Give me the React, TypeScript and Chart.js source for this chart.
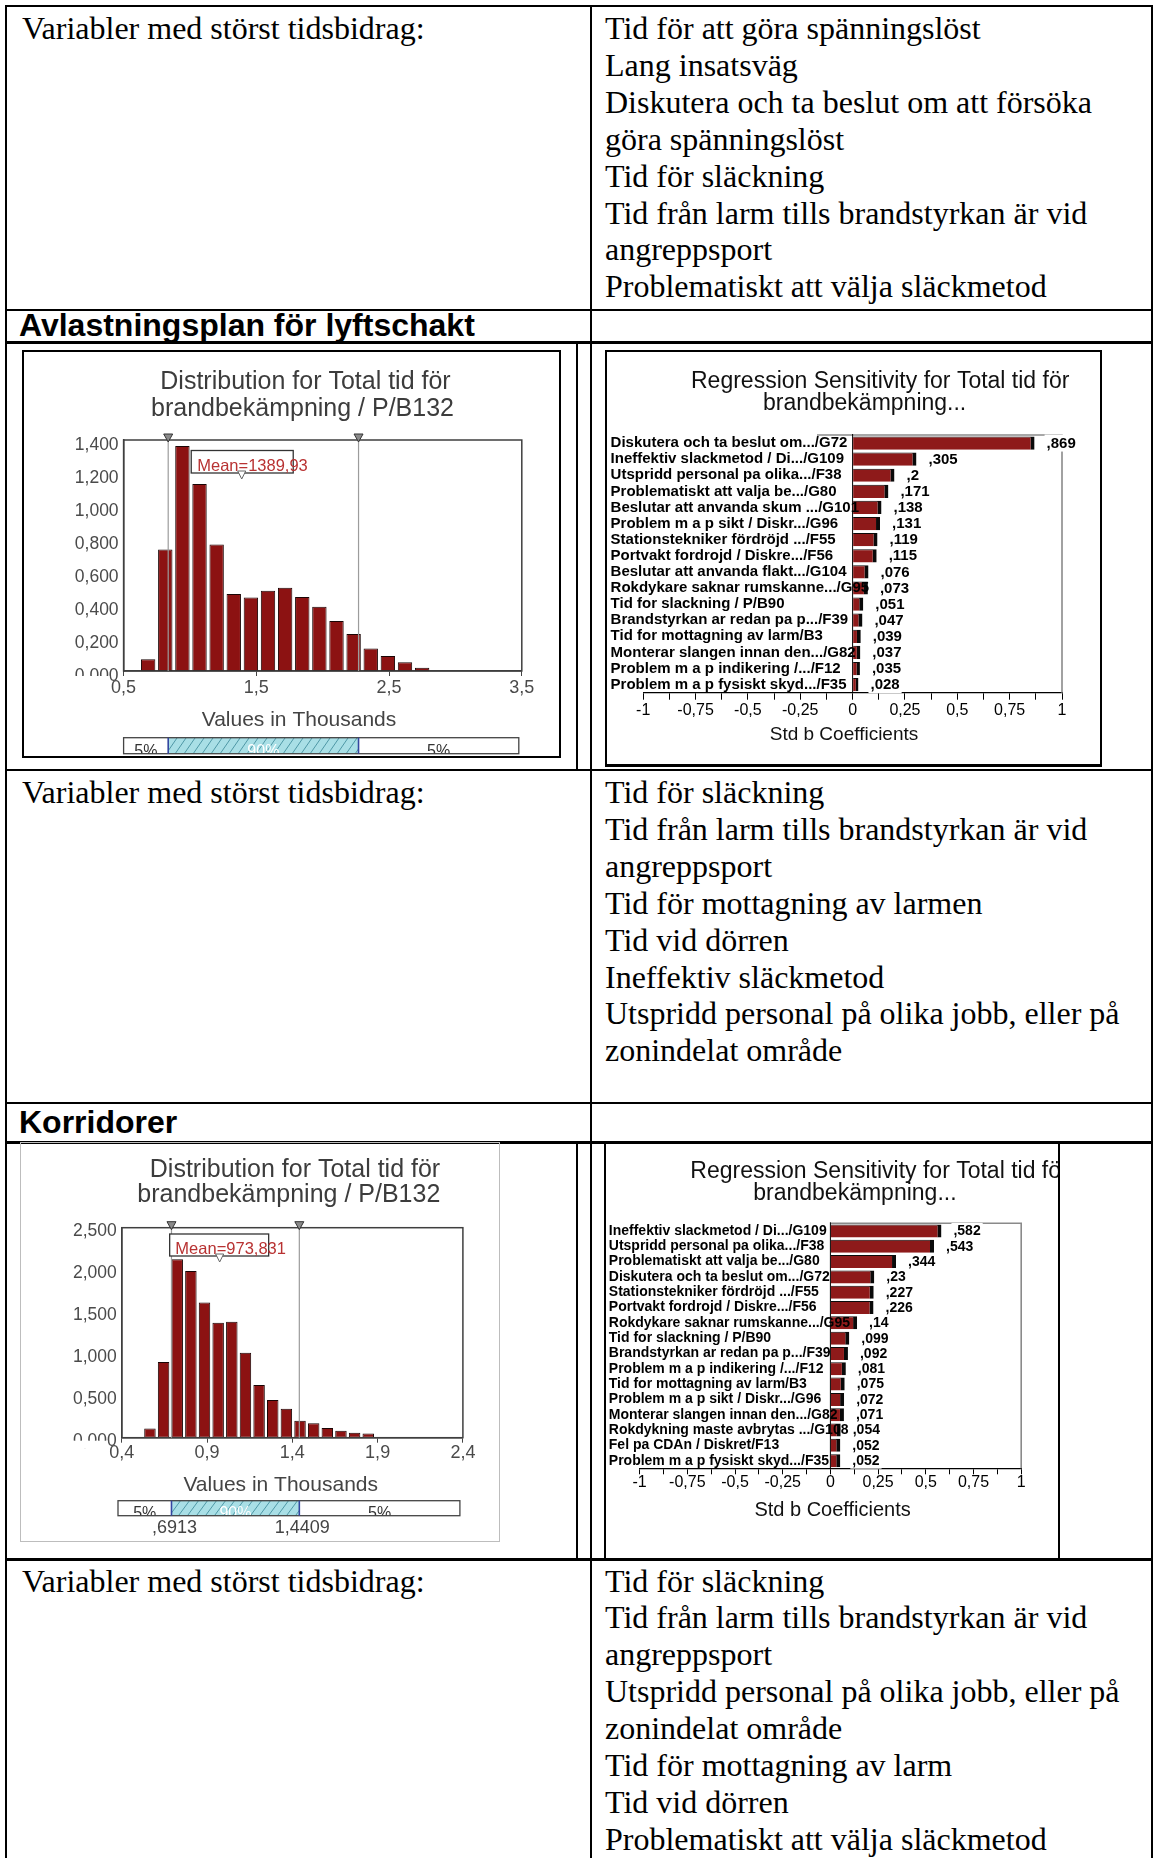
import React, { useEffect, useRef } from "react";
import { Chart, registerables } from "chart.js";
Chart.register(...registerables);

const SERIF = '"Liberation Serif", "Times New Roman", serif';
const SANS = '"Liberation Sans", Arial, sans-serif';

// ---------------- Text content ----------------
const leftLabel = "Variabler med störst tidsbidrag:";
const row1Right = [
  "Tid för att göra spänningslöst",
  "Lang insatsväg",
  "Diskutera och ta beslut om att försöka",
  "göra spänningslöst",
  "Tid för släckning",
  "Tid från larm tills brandstyrkan är vid",
  "angreppsport",
  "Problematiskt att välja släckmetod",
];
const header1 = "Avlastningsplan för lyftschakt";
const row2Right = [
  "Tid för släckning",
  "Tid från larm tills brandstyrkan är vid",
  "angreppsport",
  "Tid för mottagning av larmen",
  "Tid vid dörren",
  "Ineffektiv släckmetod",
  "Utspridd personal på olika jobb, eller på",
  "zonindelat område",
];
const header2 = "Korridorer";
const row3Right = [
  "Tid för släckning",
  "Tid från larm tills brandstyrkan är vid",
  "angreppsport",
  "Utspridd personal på olika jobb, eller på",
  "zonindelat område",
  "Tid för mottagning av larm",
  "Tid vid dörren",
  "Problematiskt att välja släckmetod",
];

// ---------------- Histogram 1 (Avlastningsplan) ----------------
const histTitle = ["Distribution for Total tid för", "brandbekämpning / P/B132"];
const histXTitle = "Values in Thousands";
const hist1Bins = [0.685, 0.814, 0.943, 1.072, 1.201, 1.33, 1.459, 1.588, 1.717, 1.846, 1.975, 2.104, 2.233, 2.362, 2.491, 2.62, 2.749];
const hist1Values = [0.071, 0.737, 1.364, 1.133, 0.766, 0.467, 0.446, 0.487, 0.505, 0.448, 0.39, 0.303, 0.224, 0.137, 0.091, 0.053, 0.02];
const hist1Mean = 1.38993;
const hist1MeanLabel = "Mean=1389,93";
const hist1P5 = 0.836;
const hist1P95 = 2.27;
const hist1XMin = 0.5;
const hist1XMax = 3.5;
const hist1XStep = 1;
const hist1YMax = 1.4;
const hist1YStep = 0.2;

// ---------------- Histogram 2 (Korridorer) ----------------
const hist2Bins = [0.565, 0.645, 0.725, 0.805, 0.885, 0.965, 1.045, 1.125, 1.205, 1.285, 1.365, 1.445, 1.525, 1.605, 1.685, 1.765, 1.845];
const hist2Values = [0.111, 0.9, 2.123, 1.984, 1.611, 1.369, 1.381, 1.012, 0.627, 0.448, 0.345, 0.202, 0.171, 0.115, 0.083, 0.06, 0.05];
const hist2Mean = 0.973831;
const hist2MeanLabel = "Mean=973,831";
const hist2P5 = 0.6913;
const hist2P95 = 1.4409;
const hist2P5Label = ",6913";
const hist2P95Label = "1,4409";
const hist2XMin = 0.4;
const hist2XMax = 2.4;
const hist2XStep = 0.5;
const hist2YMax = 2.5;
const hist2YStep = 0.5;

const pctLabels = ["5%", "90%", "5%"];

// ---------------- Tornado charts ----------------
const tornadoTitle = ["Regression Sensitivity for Total tid för", "brandbekämpning..."];
const tornadoXTitle = "Std b Coefficients";
const tornado1Labels = [
  "Diskutera och ta beslut om.../G72",
  "Ineffektiv slackmetod / Di.../G109",
  "Utspridd personal pa olika.../F38",
  "Problematiskt att valja be.../G80",
  "Beslutar att anvanda skum .../G101",
  "Problem m a p sikt / Diskr.../G96",
  "Stationstekniker fördröjd .../F55",
  "Portvakt fordrojd / Diskre.../F56",
  "Beslutar att anvanda flakt.../G104",
  "Rokdykare saknar rumskanne.../G95",
  "Tid for slackning / P/B90",
  "Brandstyrkan ar redan pa p.../F39",
  "Tid for mottagning av larm/B3",
  "Monterar slangen innan den.../G82",
  "Problem m a p indikering /.../F12",
  "Problem m a p fysiskt skyd.../F35",
];
const tornado1Values = [0.869, 0.305, 0.2, 0.171, 0.138, 0.131, 0.119, 0.115, 0.076, 0.073, 0.051, 0.047, 0.039, 0.037, 0.035, 0.028];
const tornado2Labels = [
  "Ineffektiv slackmetod / Di.../G109",
  "Utspridd personal pa olika.../F38",
  "Problematiskt att valja be.../G80",
  "Diskutera och ta beslut om.../G72",
  "Stationstekniker fördröjd .../F55",
  "Portvakt fordrojd / Diskre.../F56",
  "Rokdykare saknar rumskanne.../G95",
  "Tid for slackning / P/B90",
  "Brandstyrkan ar redan pa p.../F39",
  "Problem m a p indikering /.../F12",
  "Tid for mottagning av larm/B3",
  "Problem m a p sikt / Diskr.../G96",
  "Monterar slangen innan den.../G82",
  "Rokdykning maste avbrytas .../G108",
  "Fel pa CDAn / Diskret/F13",
  "Problem m a p fysiskt skyd.../F35",
];
const tornado2Values = [0.582, 0.543, 0.344, 0.23, 0.227, 0.226, 0.14, 0.099, 0.092, 0.081, 0.075, 0.072, 0.071, 0.054, 0.052, 0.052];
const tornadoXMin = -1;
const tornadoXMax = 1;
const tornadoXStep = 0.125;

// ---------------- Helpers / plugins ----------------
const commaNum = (v: number) => String(Math.round(v * 1000) / 1000).replace(".", ",");
const coefLabel = (v: number) => String(v).replace(/^0\./, ",");

const freeText = {
  id: "freeText",
  afterDraw(chart: any, _a: any, o: any) {
    const items = (o && o.items) || [];
    const ctx = chart.ctx;
    ctx.save();
    for (const it of items) {
      ctx.font = it.font;
      ctx.fillStyle = it.color;
      ctx.textAlign = it.align || "center";
      ctx.textBaseline = "middle";
      ctx.fillText(it.text, it.x, it.y);
    }
    ctx.restore();
  },
};

const histDecor = {
  id: "histDecor",
  afterDatasetsDraw(chart: any, _a: any, o: any) {
    const { ctx, chartArea: ca } = chart;
    const x = chart.scales.x;
    const y = chart.scales.y;
    const p5 = x.getPixelForValue(o.p5);
    const p95 = x.getPixelForValue(o.p95);
    const pm = x.getPixelForValue(o.mean);
    ctx.save();
    // lower half of the "0,000" label is hidden in the original
    ctx.fillStyle = "#fff";
    ctx.fillRect(y.left, ca.bottom + o.zeroCut, y.right - y.left - 14, 8);
    // plot frame
    ctx.strokeStyle = "#3f3f3f";
    ctx.lineWidth = 1.5;
    ctx.strokeRect(ca.left, ca.top, ca.right - ca.left, ca.bottom - ca.top);
    // percentile lines + markers
    ctx.strokeStyle = "#9c9c9c";
    ctx.lineWidth = 1.2;
    for (const p of [p5, p95]) {
      ctx.beginPath();
      ctx.moveTo(p, ca.top);
      ctx.lineTo(p, ca.bottom);
      ctx.stroke();
    }
    for (const p of [p5, p95]) {
      ctx.beginPath();
      ctx.moveTo(p - 4.5, ca.top - 6);
      ctx.lineTo(p + 4.5, ca.top - 6);
      ctx.lineTo(p, ca.top + 2);
      ctx.closePath();
      ctx.fillStyle = "#8a8a8a";
      ctx.fill();
      ctx.strokeStyle = "#333";
      ctx.lineWidth = 1;
      ctx.stroke();
    }
    // mean box
    const bx = pm + o.boxDx;
    const by = ca.top + o.boxDy;
    ctx.fillStyle = "#fff";
    ctx.fillRect(bx, by, o.boxW, o.boxH);
    ctx.strokeStyle = "#333";
    ctx.lineWidth = 1.3;
    ctx.strokeRect(bx, by, o.boxW, o.boxH);
    ctx.font = `16.5px ${SANS}`;
    ctx.fillStyle = "#b83232";
    ctx.textAlign = "left";
    ctx.textBaseline = "middle";
    ctx.fillText(o.meanLabel, bx + o.textDx, by + o.textDy);
    ctx.beginPath();
    ctx.moveTo(pm - 4, by + o.boxH - 2);
    ctx.lineTo(pm + 4, by + o.boxH - 2);
    ctx.lineTo(pm, by + o.boxH + 6);
    ctx.closePath();
    ctx.fillStyle = "#fff";
    ctx.fill();
    ctx.strokeStyle = "#666";
    ctx.lineWidth = 1;
    ctx.stroke();
    // percentage bar
    const L = ca.left + o.barL;
    const R = ca.right + o.barR;
    const T = o.barTop;
    const H = o.barH;
    ctx.fillStyle = "#fff";
    ctx.fillRect(L, T, R - L, H);
    ctx.fillStyle = "#a9dfe6";
    ctx.fillRect(p5, T, p95 - p5, H);
    ctx.save();
    ctx.beginPath();
    ctx.rect(p5, T, p95 - p5, H);
    ctx.clip();
    ctx.strokeStyle = "#4f98a6";
    ctx.lineWidth = 1;
    for (let s = p5 - 20; s < p95 + 20; s += 9) {
      ctx.beginPath();
      ctx.moveTo(s, T + H);
      ctx.lineTo(s + 11, T);
      ctx.stroke();
    }
    ctx.restore();
    ctx.save();
    ctx.beginPath();
    ctx.rect(L, T, R - L, H);
    ctx.clip();
    ctx.font = `16px ${SANS}`;
    ctx.textAlign = "center";
    ctx.textBaseline = "alphabetic";
    const segs = [
      [L, p5, "#333"],
      [p5, p95, "#fff"],
      [p95, R, "#333"],
    ];
    segs.forEach((s: any, i: number) => {
      ctx.fillStyle = s[2];
      ctx.fillText(o.pctLabels[i], (s[0] + s[1]) / 2, T + H + 2);
    });
    ctx.restore();
    ctx.strokeStyle = "#444";
    ctx.lineWidth = 1.3;
    ctx.strokeRect(L, T, R - L, H);
    ctx.strokeStyle = "#3446a0";
    ctx.lineWidth = 1.6;
    for (const p of [p5, p95]) {
      ctx.beginPath();
      ctx.moveTo(p, T);
      ctx.lineTo(p, T + H);
      ctx.stroke();
    }
    if (o.p5Label) {
      ctx.font = `18px ${SANS}`;
      ctx.fillStyle = "#444";
      ctx.textAlign = "center";
      ctx.textBaseline = "middle";
      ctx.fillText(o.p5Label, p5 + 3, o.pLabelY);
      ctx.fillText(o.p95Label, p95 + 3, o.pLabelY);
    }
    ctx.restore();
  },
};

const tornadoDecor = {
  id: "tornadoDecor",
  beforeDatasetsDraw(chart: any, _a: any, o: any) {
    const { ctx, chartArea: ca } = chart;
    const x = chart.scales.x;
    ctx.save();
    ctx.strokeStyle = "#8a8a8a";
    ctx.lineWidth = 1.6;
    ctx.beginPath();
    ctx.moveTo(x.getPixelForValue(o.frameFrom), ca.top);
    ctx.lineTo(ca.right, ca.top);
    ctx.lineTo(ca.right, ca.bottom);
    ctx.stroke();
    const z = x.getPixelForValue(0);
    ctx.strokeStyle = "#000";
    ctx.lineWidth = 1;
    ctx.beginPath();
    ctx.moveTo(z, ca.top - 1);
    ctx.lineTo(z, ca.bottom);
    ctx.stroke();
    ctx.restore();
  },
  afterDatasetsDraw(chart: any, _a: any, o: any) {
    const { ctx } = chart;
    const meta = chart.getDatasetMeta(0);
    const vals = chart.data.datasets[0].data;
    ctx.save();
    ctx.font = `bold ${o.fontSize}px ${SANS}`;
    ctx.textAlign = "left";
    ctx.textBaseline = "middle";
    meta.data.forEach((el: any, i: number) => {
      const t = coefLabel(vals[i]);
      const w = ctx.measureText(t).width;
      const tx = el.x + o.gap;
      ctx.fillStyle = "#fff";
      ctx.fillRect(tx - 2, el.y - o.fontSize / 2 - 1, w + 4, o.fontSize + 2);
      ctx.fillStyle = "#000";
      ctx.fillText(t, tx, el.y + 0.5);
    });
    ctx.restore();
  },
};

// ---------------- Chart components ----------------
function HistogramChart(p: any) {
  const ref = useRef<HTMLCanvasElement | null>(null);
  useEffect(() => {
    const c = ref.current!;
    const chart = new Chart(c, {
      type: "bar",
      data: {
        datasets: [
          {
            data: p.bins.map((b: number, i: number) => ({ x: b, y: p.values[i] })),
            backgroundColor: "#8c1212",
            borderColor: "#1a0505",
            borderWidth: 1,
            borderSkipped: false,
            barPercentage: 0.84,
            categoryPercentage: 1,
          },
        ],
      },
      options: {
        responsive: false,
        animation: false,
        devicePixelRatio: 1,
        layout: { padding: { left: 0, top: p.padTop, right: p.padRight, bottom: 0 } },
        plugins: {
          legend: { display: false },
          tooltip: { enabled: false },
          title: { display: false },
          freeText: { items: p.texts },
          histDecor: p.decor,
        },
        scales: {
          x: {
            type: "linear",
            min: p.xMin,
            max: p.xMax,
            offset: false,
            grid: { offset: false, drawOnChartArea: false, drawTicks: true, tickLength: 5, color: "#444" },
            border: { color: "#3f3f3f", width: 1.5 },
            ticks: {
              stepSize: p.xStep,
              autoSkip: false,
              maxRotation: 0,
              padding: p.xTickPad,
              color: "#4a4a4a",
              font: { family: SANS, size: 18 },
              callback: (v: any) => Number(v).toFixed(1).replace(".", ","),
            },
            afterFit: (s: any) => {
              s.height = p.xAxisH;
            },
          },
          y: {
            min: 0,
            max: p.yMax,
            grid: { display: false },
            border: { color: "#3f3f3f", width: 1.5 },
            ticks: {
              stepSize: p.yStep,
              padding: -3,
              labelOffset: p.yLabelOffset,
              color: "#4a4a4a",
              font: { family: SANS, size: 17.5 },
              callback: (v: any) => Number(v).toFixed(3).replace(".", ","),
            },
            afterFit: (s: any) => {
              s.width = p.yAxisW;
            },
          },
        },
      } as any,
      plugins: [freeText, histDecor],
    });
    return () => chart.destroy();
  }, []);
  return (
    <canvas
      ref={ref}
      width={p.w}
      height={p.h}
      style={{ position: "absolute", left: p.left, top: p.top, width: p.w, height: p.h }}
    />
  );
}

function TornadoChart(p: any) {
  const ref = useRef<HTMLCanvasElement | null>(null);
  useEffect(() => {
    const c = ref.current!;
    const chart = new Chart(c, {
      type: "bar",
      data: {
        labels: p.labels,
        datasets: [
          {
            data: p.values,
            backgroundColor: "#8e1a1a",
            borderColor: "#0a0a0a",
            borderWidth: { top: 1, right: 4, bottom: 0, left: 0 },
            borderSkipped: false,
            barPercentage: p.barPct,
            categoryPercentage: 1,
          },
        ],
      },
      options: {
        indexAxis: "y",
        responsive: false,
        animation: false,
        devicePixelRatio: 1,
        layout: { padding: { left: p.padLeft, top: p.padTop, right: p.padRight, bottom: 0 } },
        plugins: {
          legend: { display: false },
          tooltip: { enabled: false },
          title: { display: false },
          freeText: { items: p.texts },
          tornadoDecor: { frameFrom: p.frameFrom, gap: 12, fontSize: p.valueFont },
        },
        scales: {
          x: {
            type: "linear",
            min: tornadoXMin,
            max: tornadoXMax,
            grid: { drawOnChartArea: false, drawTicks: true, tickLength: p.tickLen, color: "#000" },
            border: { color: "#000", width: 1.3 },
            ticks: {
              stepSize: tornadoXStep,
              autoSkip: false,
              maxRotation: 0,
              padding: p.xTickPad,
              color: "#000",
              font: { family: SANS, size: 16 },
              callback: (v: any) => {
                const n = Math.round(Number(v) * 1000) / 1000;
                if (Math.abs(n * 4 - Math.round(n * 4)) > 1e-6) return "";
                return commaNum(n);
              },
            },
            afterFit: (s: any) => {
              s.height = p.xAxisH;
            },
          },
          y: {
            grid: { display: false },
            border: { display: false },
            ticks: {
              mirror: true,
              padding: -p.yAxisW,
              autoSkip: false,
              z: 1,
              color: "#000",
              font: { family: SANS, size: p.labelFont, weight: "bold" },
            },
            afterFit: (s: any) => {
              s.width = p.yAxisW;
            },
          },
        },
      } as any,
      plugins: [freeText, tornadoDecor],
    });
    return () => chart.destroy();
  }, []);
  return (
    <canvas
      ref={ref}
      width={p.w}
      height={p.h}
      style={{ position: "absolute", left: p.left, top: p.top, width: p.w, height: p.h }}
    />
  );
}

// ---------------- Page pieces ----------------
function Lines({ lines, left, top }: any) {
  return (
    <div
      style={{
        position: "absolute",
        left,
        top,
        fontFamily: SERIF,
        fontSize: 32,
        lineHeight: "36.9px",
        whiteSpace: "nowrap",
        color: "#000",
      }}
    >
      {lines.map((l: string, i: number) => (
        <div key={i}>{l}</div>
      ))}
    </div>
  );
}

function Header({ text, top }: any) {
  return (
    <div
      style={{
        position: "absolute",
        left: 19,
        top,
        fontFamily: SANS,
        fontWeight: "bold",
        fontSize: 32,
        lineHeight: "32px",
        whiteSpace: "nowrap",
        color: "#000",
      }}
    >
      {text}
    </div>
  );
}

const HL = ({ y, t = 2 }: any) => (
  <div style={{ position: "absolute", left: 5, top: y, width: 1148, height: t, background: "#000" }} />
);
const VL = ({ x, y1, y2, w = 2, c = "#000" }: any) => (
  <div style={{ position: "absolute", left: x, top: y1, width: w, height: y2 - y1, background: c }} />
);

const tTitle = (x1: number, y1: number, x2: number, y2: number, align1: any) => [
  { text: tornadoTitle[0], x: x1, y: y1, font: `23px ${SANS}`, color: "#111", align: align1 },
  { text: tornadoTitle[1], x: x2, y: y2, font: `23px ${SANS}`, color: "#111", align: "center" },
];
const hTitle = (x1: number, y1: number, x2: number, y2: number) => [
  { text: histTitle[0], x: x1, y: y1, font: `25px ${SANS}`, color: "#3c3c3c", align: "center" },
  { text: histTitle[1], x: x2, y: y2, font: `25px ${SANS}`, color: "#3c3c3c", align: "center" },
];

export default function App() {
  return (
    <div
      style={{
        position: "absolute",
        left: 0,
        top: 0,
        width: 1155,
        height: 1858,
        overflow: "hidden",
        background: "#fff",
      }}
    >
      {/* table grid */}
      <HL y={5} />
      <HL y={309} />
      <HL y={341} t={2.5} />
      <HL y={769} />
      <HL y={1102} />
      <HL y={1141} t={2.5} />
      <HL y={1558} t={2.5} />
      <VL x={5} y1={5} y2={1858} />
      <VL x={590} y1={5} y2={1858} />
      <VL x={1151} y1={5} y2={1858} />
      <VL x={576} y1={341} y2={769} w={1.5} />
      <VL x={576} y1={1141} y2={1558} w={1.5} />

      {/* row 1 */}
      <Lines lines={[leftLabel]} left={22} top={10} />
      <Lines lines={row1Right} left={605} top={10} />
      <Header text={header1} top={309} />

      {/* chart row 1 */}
      <div
        style={{
          position: "absolute",
          left: 22,
          top: 350,
          width: 539,
          height: 408,
          border: "2px solid #000",
          boxSizing: "border-box",
        }}
      />
      <HistogramChart
        left={24}
        top={352}
        w={535}
        h={404}
        padTop={88}
        padRight={37.2}
        yAxisW={99.6}
        xAxisH={85}
        xTickPad={1.5}
        yLabelOffset={5}
        bins={hist1Bins}
        values={hist1Values}
        xMin={hist1XMin}
        xMax={hist1XMax}
        xStep={hist1XStep}
        yMax={hist1YMax}
        yStep={hist1YStep}
        texts={[
          ...hTitle(281.5, 30.5, 278.5, 57.5),
          { text: histXTitle, x: 275, y: 368, font: `21px ${SANS}`, color: "#444", align: "center" },
        ]}
        decor={{
          p5: hist1P5,
          p95: hist1P95,
          mean: hist1Mean,
          meanLabel: hist1MeanLabel,
          boxDx: -50.5,
          boxDy: 10.5,
          boxW: 102,
          boxH: 22.5,
          textDx: 6,
          textDy: 16,
          barL: 0,
          barR: -3,
          barTop: 385.7,
          barH: 16,
          zeroCut: 5,
          pctLabels,
        }}
      />
      <div
        style={{
          position: "absolute",
          left: 605,
          top: 350,
          width: 497,
          height: 417,
          border: "2px solid #000",
          borderBottomWidth: 3,
          boxSizing: "border-box",
        }}
      />
      <TornadoChart
        left={607}
        top={352}
        w={493}
        h={412}
        padLeft={3.6}
        padTop={83}
        padRight={38}
        yAxisW={32.6}
        xAxisH={71.3}
        tickLen={7}
        xTickPad={1}
        labelFont={15}
        valueFont={15}
        barPct={0.82}
        frameFrom={-0.17}
        labels={tornado1Labels}
        values={tornado1Values}
        texts={[
          ...tTitle(84, 29.7, 257.6, 51.3, "left"),
          { text: tornadoXTitle, x: 237, y: 383, font: `19px ${SANS}`, color: "#111", align: "center" },
        ]}
      />

      {/* row 2 */}
      <Lines lines={[leftLabel]} left={22} top={774} />
      <Lines lines={row2Right} left={605} top={774} />
      <Header text={header2} top={1106} />

      {/* chart row 2 */}
      <div
        style={{
          position: "absolute",
          left: 20,
          top: 1142,
          width: 480,
          height: 400,
          border: "1px solid #bdbdbd",
          boxSizing: "border-box",
        }}
      />
      <HistogramChart
        left={21}
        top={1143}
        w={477}
        h={398}
        padTop={84.7}
        padRight={35.1}
        yAxisW={100.8}
        xAxisH={103.3}
        xTickPad={-0.5}
        yLabelOffset={3}
        bins={hist2Bins}
        values={hist2Values}
        xMin={hist2XMin}
        xMax={hist2XMax}
        xStep={hist2XStep}
        yMax={hist2YMax}
        yStep={hist2YStep}
        texts={[
          ...hTitle(274, 27, 267.8, 52),
          { text: histXTitle, x: 259.7, y: 342, font: `21px ${SANS}`, color: "#444", align: "center" },
        ]}
        decor={{
          p5: hist2P5,
          p95: hist2P95,
          mean: hist2Mean,
          meanLabel: hist2MeanLabel,
          boxDx: -50,
          boxDy: 6.3,
          boxW: 99,
          boxH: 22,
          textDx: 5.7,
          textDy: 15,
          barL: -3.8,
          barR: -3,
          barTop: 357.7,
          barH: 15,
          zeroCut: 3,
          pctLabels,
          p5Label: hist2P5Label,
          p95Label: hist2P95Label,
          pLabelY: 385,
        }}
      />
      <VL x={604} y1={1141} y2={1558} w={2} />
      <VL x={1058} y1={1141} y2={1558} w={2} />
      <TornadoChart
        left={606}
        top={1143}
        w={452}
        h={414}
        padLeft={2.8}
        padTop={80.3}
        padRight={36.8}
        yAxisW={30.8}
        xAxisH={88.7}
        tickLen={6}
        xTickPad={-1}
        labelFont={14}
        valueFont={14}
        barPct={0.85}
        frameFrom={0}
        labels={tornado2Labels}
        values={tornado2Values}
        texts={[
          ...tTitle(84.3, 28.7, 248.9, 50.3, "left"),
          { text: tornadoXTitle, x: 226.6, y: 367, font: `20px ${SANS}`, color: "#111", align: "center" },
        ]}
      />

      {/* row 3 */}
      <Lines lines={[leftLabel]} left={22} top={1562.5} />
      <Lines lines={row3Right} left={605} top={1562.5} />
    </div>
  );
}
